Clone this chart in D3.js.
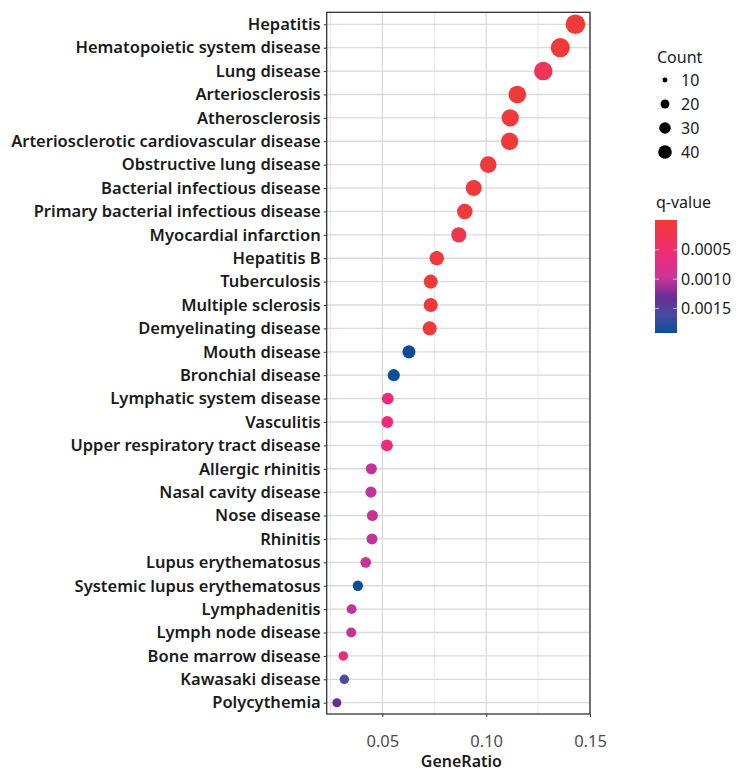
<!DOCTYPE html>
<html>
<head>
<meta charset="utf-8">
<script src="https://cdn.jsdelivr.net/npm/d3@7"></script>
<style>
  body { margin: 0; background: #ffffff; }
  svg { display: block; }
  text { font-family: "Noto Sans", "Open Sans", sans-serif; }
</style>
</head>
<body>
<svg id="chart" width="736" height="771"></svg>
<script>
// Disease enrichment terms, top to bottom
const terms = [
  "Hepatitis", "Hematopoietic system disease", "Lung disease", "Arteriosclerosis",
  "Atherosclerosis", "Arteriosclerotic cardiovascular disease", "Obstructive lung disease",
  "Bacterial infectious disease", "Primary bacterial infectious disease", "Myocardial infarction",
  "Hepatitis B", "Tuberculosis", "Multiple sclerosis", "Demyelinating disease",
  "Mouth disease", "Bronchial disease", "Lymphatic system disease", "Vasculitis",
  "Upper respiratory tract disease", "Allergic rhinitis", "Nasal cavity disease",
  "Nose disease", "Rhinitis", "Lupus erythematosus", "Systemic lupus erythematosus",
  "Lymphadenitis", "Lymph node disease", "Bone marrow disease", "Kawasaki disease",
  "Polycythemia"
];
const geneRatio = [
  0.143, 0.1357, 0.1275, 0.115, 0.1116, 0.1113, 0.101, 0.094, 0.0897, 0.0868,
  0.0762, 0.0733, 0.0733, 0.0728, 0.0628, 0.0555, 0.0526, 0.0524, 0.0522, 0.0447,
  0.0445, 0.0452, 0.045, 0.042, 0.0382, 0.0352, 0.035, 0.0312, 0.0317, 0.0281
];
const geneCount = [
  45, 43, 40, 36, 35, 35, 32, 30, 28, 27,
  24, 23, 23, 23, 20, 17, 16, 16, 16, 14,
  14, 14, 14, 13, 12, 11, 11, 10, 10, 9
];
const qValue = [
  0.00001, 0.00002, 0.0003, 0.00003, 0.00003, 0.00003, 0.00004, 0.00005, 0.00006, 0.0002,
  0.00005, 0.00005, 0.00005, 0.00005, 0.0019, 0.0019, 0.0006, 0.0006, 0.0006, 0.00102,
  0.00102, 0.00102, 0.00102, 0.00098, 0.0019, 0.00102, 0.00102, 0.0006, 0.0016, 0.0013
];
const xTicks = [0.05, 0.10, 0.15];
const xMinorTicks = [0.025, 0.075, 0.125];
const sizeBreaks = [10, 20, 30, 40];
const qBreaks = [0.0005, 0.0010, 0.0015];

const FS = "16.5px";
const svg = d3.select("#chart");
const panel = { left: 326.7, right: 590, top: 12.3, bottom: 714 };

const x = d3.scaleLinear().domain([0.0232, 0.15]).range([panel.left, panel.right]);
const y = d3.scalePoint().domain(terms).range([24.3, 702.7]);

// q-value colour ramp: red (most significant) through magenta and purple to blue
const qStops = [0, 0.0006, 0.0010, 0.0013, 0.0016, 0.0019];
const qColors = ["#ef3b36", "#ee2a7b", "#c8359a", "#6a2c94", "#4a4ca0", "#0c4d98"];
const color = d3.scaleLinear().domain(qStops).range(qColors).interpolate(d3.interpolateRgb).clamp(true);

const r = d3.scaleRadial().domain([9, 45]).range([4.5, 9.8]);
const rLegend = d3.scaleRadial().domain([9, 45]).range([2.2, 7.3]);

// grid
const grid = svg.append("g");
grid.selectAll("line.minor").data(xMinorTicks).join("line")
  .attr("x1", d => x(d)).attr("x2", d => x(d))
  .attr("y1", panel.top).attr("y2", panel.bottom)
  .attr("stroke", "#e3e3e3").attr("stroke-width", 0.9);
grid.selectAll("line.major").data(xTicks).join("line")
  .attr("x1", d => x(d)).attr("x2", d => x(d))
  .attr("y1", panel.top).attr("y2", panel.bottom)
  .attr("stroke", "#dadada").attr("stroke-width", 1.3);
grid.selectAll("line.row").data(terms).join("line")
  .attr("x1", panel.left).attr("x2", panel.right)
  .attr("y1", d => y(d)).attr("y2", d => y(d))
  .attr("stroke", "#dadada").attr("stroke-width", 1.3);

// points
const rows = terms.map((t, i) => ({ term: t, ratio: geneRatio[i], count: geneCount[i], q: qValue[i] }));
svg.append("g").selectAll("circle").data(rows).join("circle")
  .attr("cx", d => x(d.ratio))
  .attr("cy", d => y(d.term))
  .attr("r", d => r(d.count))
  .attr("fill", d => color(d.q));

// panel border
svg.append("rect")
  .attr("x", panel.left).attr("y", panel.top)
  .attr("width", panel.right - panel.left).attr("height", panel.bottom - panel.top)
  .attr("fill", "none").attr("stroke", "#222").attr("stroke-width", 1.2);

// y axis
const yAxis = svg.append("g").attr("transform", `translate(${panel.left},0)`)
  .call(d3.axisLeft(y).tickSize(3).tickPadding(3));
yAxis.select(".domain").remove();
yAxis.selectAll("line").attr("stroke", "#333");
yAxis.selectAll("text")
  .attr("fill", "#1a1a1a").style("font-size", FS).style("font-weight", 600)
  .style("font-family", "'Noto Sans', sans-serif");

// x axis
const xAxis = svg.append("g").attr("transform", `translate(0,${panel.bottom})`)
  .call(d3.axisBottom(x).tickValues(xTicks).tickFormat(d3.format(".2f")).tickSize(3).tickPadding(18));
xAxis.select(".domain").remove();
xAxis.selectAll("line").attr("stroke", "#333");
xAxis.selectAll("text")
  .attr("fill", "#4d4d4d").style("font-size", FS)
  .style("font-family", "'Noto Sans', sans-serif");

svg.append("text")
  .attr("x", (panel.left + panel.right) / 2 + 3).attr("y", 767)
  .attr("text-anchor", "middle")
  .style("font-size", "16px").style("font-weight", 600).attr("fill", "#1a1a1a")
  .text("GeneRatio");

// size legend
const sizeLegend = svg.append("g");
sizeLegend.append("text").attr("x", 657).attr("y", 63)
  .style("font-size", "16px").attr("fill", "#1a1a1a").text("Count");
const sizeItems = sizeLegend.selectAll("g.item").data(sizeBreaks).join("g")
  .attr("transform", (d, i) => `translate(665,${80 + i * 24})`);
sizeItems.append("circle").attr("r", d => rLegend(d)).attr("fill", "#000");
sizeItems.append("text").attr("x", 16).attr("dy", "0.35em")
  .style("font-size", "16px").attr("fill", "#1a1a1a").text(d => d);

// colour legend
const cb = { x: 655, y: 220, w: 22, h: 113 };
const qScaleLegend = d3.scaleLinear().domain([-0.00001, 0.00192]).range([cb.y, cb.y + cb.h]);
const defs = svg.append("defs");
const grad = defs.append("linearGradient").attr("id", "qgrad")
  .attr("x1", 0).attr("x2", 0).attr("y1", 0).attr("y2", 1);
grad.selectAll("stop").data(d3.range(0, 1.0001, 0.05)).join("stop")
  .attr("offset", t => t)
  .attr("stop-color", t => color(qScaleLegend.invert(cb.y + t * cb.h)));
svg.append("text").attr("x", 656).attr("y", 208)
  .style("font-size", "16px").attr("fill", "#1a1a1a").text("q-value");
svg.append("rect").attr("x", cb.x).attr("y", cb.y).attr("width", cb.w).attr("height", cb.h)
  .attr("fill", "url(#qgrad)");
const cbTicks = svg.append("g");
cbTicks.selectAll("line.l").data(qBreaks).join("line")
  .attr("x1", cb.x).attr("x2", cb.x + 4)
  .attr("y1", d => qScaleLegend(d)).attr("y2", d => qScaleLegend(d))
  .attr("stroke", "#ffffff").attr("stroke-opacity", 0.6);
cbTicks.selectAll("line.r").data(qBreaks).join("line")
  .attr("x1", cb.x + cb.w - 4).attr("x2", cb.x + cb.w)
  .attr("y1", d => qScaleLegend(d)).attr("y2", d => qScaleLegend(d))
  .attr("stroke", "#ffffff").attr("stroke-opacity", 0.6);
cbTicks.selectAll("text").data(qBreaks).join("text")
  .attr("x", 681).attr("y", d => qScaleLegend(d)).attr("dy", "0.35em")
  .style("font-size", "16px").attr("fill", "#1a1a1a").text(d => d3.format(".4f")(d));
</script>
</body>
</html>
